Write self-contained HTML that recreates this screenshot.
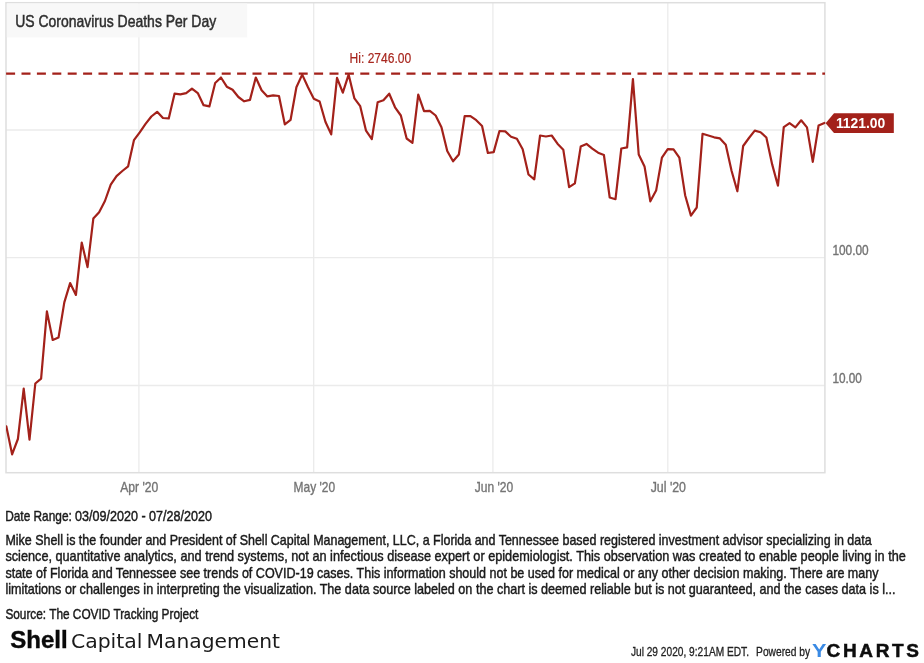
<!DOCTYPE html>
<html lang="en"><head><meta charset="utf-8"><title>US Coronavirus Deaths Per Day</title>
<style>
html,body{margin:0;padding:0;background:#fff;}
body{width:924px;height:663px;overflow:hidden;font-family:'Liberation Sans', sans-serif;}
svg{display:block;font-family:'Liberation Sans', sans-serif;}
</style></head><body>
<svg width="924" height="663" viewBox="0 0 924 663">
<rect x="0" y="0" width="924" height="663" fill="#fff"/>
<line x1="6" y1="130" x2="824.9" y2="130" stroke="#ebebeb" stroke-width="1.3"/>
<line x1="6" y1="257.7" x2="824.9" y2="257.7" stroke="#ebebeb" stroke-width="1.3"/>
<line x1="6" y1="385.5" x2="824.9" y2="385.5" stroke="#ebebeb" stroke-width="1.3"/>
<line x1="138.9" y1="2.9" x2="138.9" y2="472.7" stroke="#ebebeb" stroke-width="1.3"/>
<line x1="313.7" y1="2.9" x2="313.7" y2="472.7" stroke="#ebebeb" stroke-width="1.3"/>
<line x1="492.9" y1="2.9" x2="492.9" y2="472.7" stroke="#ebebeb" stroke-width="1.3"/>
<line x1="667.8" y1="2.9" x2="667.8" y2="472.7" stroke="#ebebeb" stroke-width="1.3"/>
<rect x="6" y="2.7" width="818.9" height="470" fill="none" stroke="#dedede" stroke-width="1.5"/>
<rect x="6.8" y="3.4" width="240.4" height="34" fill="#f7f7f7" fill-opacity="0.88"/>
<text x="15.2" y="26.7" font-size="17" fill="#2e2e2e" font-weight="normal" text-anchor="start" textLength="201" lengthAdjust="spacingAndGlyphs" stroke="#2e2e2e" stroke-width="0.5">US Coronavirus Deaths Per Day</text>
<line x1="6.1" y1="73.6" x2="825" y2="73.6" stroke="#a3211a" stroke-width="2.2" stroke-dasharray="9 6.4"/>
<text x="349.6" y="62.5" font-size="14" fill="#a8271f" font-weight="normal" text-anchor="start" textLength="61.6" lengthAdjust="spacingAndGlyphs" stroke="#a8271f" stroke-width="0.2">Hi: 2746.00</text>
<clipPath id="plotclip"><rect x="6" y="2.9" width="830" height="469.8"/></clipPath>
<polyline clip-path="url(#plotclip)" points="6.30,426.3 12.10,454.3 17.90,439.0 23.71,388.6 29.51,439.6 35.31,383.5 41.11,378.6 46.91,311.4 52.72,340.0 58.52,337.6 64.32,302.4 70.12,283.1 75.92,294.9 81.73,242.5 87.53,267.1 93.33,218.6 99.13,212.2 104.93,201.0 110.74,184.7 116.54,176.1 122.34,171.0 128.14,166.3 133.94,140.2 139.75,132.4 145.55,123.9 151.35,116.5 157.15,111.8 162.95,118.0 168.76,118.4 174.56,93.7 180.36,94.3 186.16,93.1 191.96,88.6 197.77,93.1 203.57,105.2 209.37,106.4 215.17,83.0 220.97,77.5 226.78,86.7 232.58,89.8 238.38,97.0 244.18,101.3 249.98,99.9 255.79,77.5 261.59,90.2 267.39,96.4 273.19,95.3 278.99,96.0 284.80,124.3 290.60,119.8 296.40,87.3 302.20,74.6 308.00,87.3 313.81,98.8 319.61,101.5 325.41,121.7 331.21,134.4 337.01,77.9 342.82,92.7 348.62,74.6 354.42,98.4 360.22,106.2 366.02,130.7 371.83,139.1 377.63,102.3 383.43,100.3 389.23,93.7 395.03,107.3 400.84,115.5 406.64,138.5 412.44,142.8 418.24,94.7 424.04,111.2 429.85,110.8 435.65,115.5 441.45,127.2 447.25,151.0 453.05,161.3 458.86,154.5 464.66,116.1 470.46,116.1 476.26,120.2 482.06,126.0 487.87,153.0 493.67,152.1 499.47,131.0 505.27,131.4 511.07,136.7 516.88,138.8 522.68,149.2 528.48,174.5 534.28,179.4 540.08,135.5 545.89,136.5 551.69,135.5 557.49,143.7 563.29,149.7 569.09,187.1 574.90,183.3 580.70,146.6 586.50,143.9 592.30,148.6 598.10,152.7 603.91,155.0 609.71,197.5 615.51,199.2 621.31,148.5 627.11,147.3 632.92,79.1 638.72,154.5 644.52,166.4 650.32,201.3 656.12,190.6 661.93,157.6 667.73,149.1 673.53,149.4 679.33,157.6 685.13,195.2 690.94,215.6 696.74,207.5 702.54,133.8 708.34,135.5 714.14,137.3 719.95,138.4 725.75,144.8 731.55,170.7 737.35,191.3 743.15,146.0 748.96,138.0 754.76,130.6 760.56,132.2 766.36,137.5 772.16,164.4 777.97,185.7 783.77,127.2 789.57,123.1 795.37,127.4 801.17,120.3 806.98,127.4 812.78,161.8 818.58,125.5 824.38,122.9" fill="none" stroke="#a3211a" stroke-width="2.2" stroke-linejoin="round" stroke-linecap="round"/>
<path d="M825.6 123.2 L834 113.3 H893.8 V133 H834 Z" fill="#a3211a"/>
<text x="835.9" y="127.6" font-size="13.8" fill="#fff" font-weight="bold" text-anchor="start" textLength="49.4" lengthAdjust="spacingAndGlyphs">1121.00</text>
<text x="832.4" y="254.8" font-size="14" fill="#747474" font-weight="normal" text-anchor="start" textLength="36.2" lengthAdjust="spacingAndGlyphs" stroke="#747474" stroke-width="0.4">100.00</text>
<text x="832.4" y="382.7" font-size="14" fill="#747474" font-weight="normal" text-anchor="start" textLength="29.5" lengthAdjust="spacingAndGlyphs" stroke="#747474" stroke-width="0.4">10.00</text>
<text x="120.2" y="492.3" font-size="14.2" fill="#747474" font-weight="normal" text-anchor="start" textLength="38.1" lengthAdjust="spacingAndGlyphs" stroke="#747474" stroke-width="0.35">Apr '20</text>
<text x="293.6" y="492.3" font-size="14.2" fill="#747474" font-weight="normal" text-anchor="start" textLength="41.5" lengthAdjust="spacingAndGlyphs" stroke="#747474" stroke-width="0.35">May '20</text>
<text x="474.8" y="492.3" font-size="14.2" fill="#747474" font-weight="normal" text-anchor="start" textLength="38.4" lengthAdjust="spacingAndGlyphs" stroke="#747474" stroke-width="0.35">Jun '20</text>
<text x="650.7" y="492.3" font-size="14.2" fill="#747474" font-weight="normal" text-anchor="start" textLength="35.3" lengthAdjust="spacingAndGlyphs" stroke="#747474" stroke-width="0.35">Jul '20</text>
<text x="5.2" y="520.5" font-size="14.6" fill="#1a1a1a" font-weight="normal" text-anchor="start" textLength="66.6" lengthAdjust="spacingAndGlyphs" stroke="#1a1a1a" stroke-width="0.45">Date Range:</text>
<text x="75.0" y="520.5" font-size="14.6" fill="#1a1a1a" font-weight="normal" text-anchor="start" textLength="137.0" lengthAdjust="spacingAndGlyphs" stroke="#1a1a1a" stroke-width="0.45">03/09/2020 - 07/28/2020</text>
<text x="5.4" y="544.5" font-size="14.6" fill="#1a1a1a" font-weight="normal" text-anchor="start" textLength="866.2" lengthAdjust="spacingAndGlyphs" stroke="#1a1a1a" stroke-width="0.45">Mike Shell is the founder and President of Shell Capital Management, LLC, a Florida and Tennessee based registered investment advisor specializing in data</text>
<text x="5.4" y="561.1" font-size="14.6" fill="#1a1a1a" font-weight="normal" text-anchor="start" textLength="900.4" lengthAdjust="spacingAndGlyphs" stroke="#1a1a1a" stroke-width="0.45">science, quantitative analytics, and trend systems, not an infectious disease expert or epidemiologist. This observation was created to enable people living in the</text>
<text x="5.4" y="577.6" font-size="14.6" fill="#1a1a1a" font-weight="normal" text-anchor="start" textLength="873.1" lengthAdjust="spacingAndGlyphs" stroke="#1a1a1a" stroke-width="0.45">state of Florida and Tennessee see trends of COVID-19 cases. This information should not be used for medical or any other decision making. There are many</text>
<text x="5.4" y="594.1" font-size="14.6" fill="#1a1a1a" font-weight="normal" text-anchor="start" textLength="890.1" lengthAdjust="spacingAndGlyphs" stroke="#1a1a1a" stroke-width="0.45">limitations or challenges in interpreting the visualization. The data source labeled on the chart is deemed reliable but is not guaranteed, and the cases data is l...</text>
<text x="5.4" y="618.7" font-size="14.6" fill="#1a1a1a" font-weight="normal" text-anchor="start" textLength="193" lengthAdjust="spacingAndGlyphs" stroke="#1a1a1a" stroke-width="0.45">Source: The COVID Tracking Project</text>
<text x="10.2" y="647.9" font-size="24" fill="#0a0a0a" font-weight="bold" text-anchor="start" textLength="57.4" lengthAdjust="spacingAndGlyphs" stroke="#0a0a0a" stroke-width="0.4">Shell</text>
<text x="70.9" y="647.6" font-family="'DejaVu Sans', sans-serif" font-size="19" fill="#1a1a1a" textLength="71.6" lengthAdjust="spacingAndGlyphs">Capital</text>
<text x="146.6" y="647.6" font-family="'DejaVu Sans', sans-serif" font-size="19" fill="#1a1a1a" textLength="133.4" lengthAdjust="spacingAndGlyphs">Management</text>
<text x="630.9" y="655.5" font-size="13" fill="#222" font-weight="normal" text-anchor="start" textLength="118.1" lengthAdjust="spacingAndGlyphs" stroke="#222" stroke-width="0.3">Jul 29 2020, 9:21AM EDT.</text>
<text x="756.1" y="655.5" font-size="13" fill="#222" font-weight="normal" text-anchor="start" textLength="54" lengthAdjust="spacingAndGlyphs" stroke="#222" stroke-width="0.3">Powered by</text>
<text x="812.0" y="657.3" font-size="18.7" fill="#3a8ae4" font-weight="bold" text-anchor="start" textLength="14.4" lengthAdjust="spacingAndGlyphs">Y</text>
<text x="826.6" y="657.3" font-size="18.7" fill="#0d0d0d" font-weight="bold" text-anchor="start" textLength="95" lengthAdjust="spacingAndGlyphs" letter-spacing="2.6" stroke="#0d0d0d" stroke-width="0.5">CHARTS</text>
</svg>
</body></html>
